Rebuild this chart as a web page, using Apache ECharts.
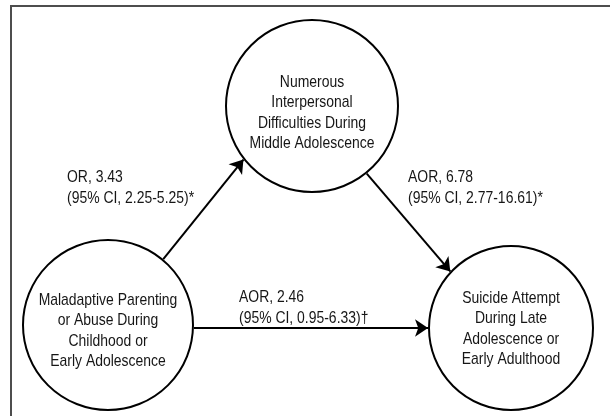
<!DOCTYPE html>
<html>
<head>
<meta charset="utf-8">
<title>Pathways to Suicide Attempt</title>
<script src="https://cdn.jsdelivr.net/npm/echarts@6/dist/echarts.min.js"></script>
<style>
  html, body { margin: 0; padding: 0; background: #fff; }
  #chart { width: 610px; height: 416px; }
</style>
</head>
<body>
<div id="chart"></div>
<script>
// Stages of the pathway model (one text line per array entry)
const stageNames = [
  ['Maladaptive Parenting', 'or Abuse During', 'Childhood or', 'Early Adolescence'],
  ['Numerous', 'Interpersonal', 'Difficulties During', 'Middle Adolescence'],
  ['Suicide Attempt', 'During Late', 'Adolescence or', 'Early Adulthood']
];

// Directed associations between stages (indices into stageNames)
const pathFrom = [0, 1, 0];
const pathTo = [1, 2, 2];

// Association statistics printed next to each path
const pathStats = [
  ['OR, 3.43', '(95% CI, 2.25-5.25)*'],
  ['AOR, 6.78', '(95% CI, 2.77-16.61)*'],
  ['AOR, 2.46', '(95% CI, 0.95-6.33)\u2020']
];

// ---- layout (canvas pixels / degrees) ----
const stageCenter = [[108, 325], [312, 106], [511, 328]];
const stageDiameter = [170, 172, 164];
const stageTextCenterY = [331, 113, 329];
const stageLineGap = 20.5;
// angle where each arrow leaves its source circle / meets its target circle
const pathLeaveDeg = [-50, 51, 2];
const pathArriveDeg = [142, 223, 180];
const statAnchor = [[67, 177], [408, 177], [239, 297]];
const statLineGap = 21.5;
const TEXT_SQUEEZE = 0.82;

const FONT = "'Liberation Sans', Arial, sans-serif";
const INK = '#161616';

function onRim(stage, deg) {
  const r = stageDiameter[stage] / 2 + 1;
  const a = deg * Math.PI / 180;
  return [stageCenter[stage][0] + r * Math.cos(a), stageCenter[stage][1] + r * Math.sin(a)];
}

const arrowData = pathFrom.map((f, i) => ({
  coords: [onRim(f, pathLeaveDeg[i]), onRim(pathTo[i], pathArriveDeg[i])]
}));

const texts = [];
stageNames.forEach((lines, i) => {
  const top = stageTextCenterY[i] - (lines.length - 1) * stageLineGap / 2;
  lines.forEach((t, j) => {
    texts.push({
      type: 'text', x: stageCenter[i][0], y: top + j * stageLineGap,
      scaleX: TEXT_SQUEEZE, z: 20,
      style: { text: t, fill: INK, font: '17px ' + FONT, textAlign: 'center', textVerticalAlign: 'middle' }
    });
  });
});
pathStats.forEach((lines, i) => {
  lines.forEach((t, j) => {
    texts.push({
      type: 'text', x: statAnchor[i][0], y: statAnchor[i][1] + j * statLineGap,
      scaleX: TEXT_SQUEEZE, z: 20,
      style: { text: t, fill: INK, font: '17px ' + FONT, textAlign: 'left', textVerticalAlign: 'middle' }
    });
  });
});

const chart = echarts.init(document.getElementById('chart'), null, { renderer: 'canvas' });
chart.setOption({
  animation: false,
  backgroundColor: '#ffffff',
  grid: { left: 0, right: 0, top: 0, bottom: 0 },
  xAxis: { type: 'value', min: 0, max: 610, show: false },
  yAxis: { type: 'value', min: 0, max: 416, inverse: true, show: false },
  graphic: [
    {
      type: 'polyline',
      shape: { points: [[11, 420], [11, 6], [620, 6]] },
      style: { stroke: '#4d4d4d', lineWidth: 2, fill: null },
      z: 10
    }
  ].concat(texts),
  series: [
    {
      type: 'lines',
      coordinateSystem: 'cartesian2d',
      symbol: ['none', 'arrow'],
      symbolSize: 13,
      lineStyle: { color: '#000000', width: 2, opacity: 1, curveness: 0 },
      emphasis: { disabled: true },
      data: arrowData,
      z: 2
    },
    {
      type: 'scatter',
      symbol: 'circle',
      symbolSize: (v, p) => stageDiameter[p.dataIndex],
      itemStyle: { color: '#ffffff', borderColor: '#000000', borderWidth: 2, opacity: 1 },
      emphasis: { disabled: true },
      data: stageCenter,
      z: 3
    }
  ]
});
</script>
</body>
</html>
